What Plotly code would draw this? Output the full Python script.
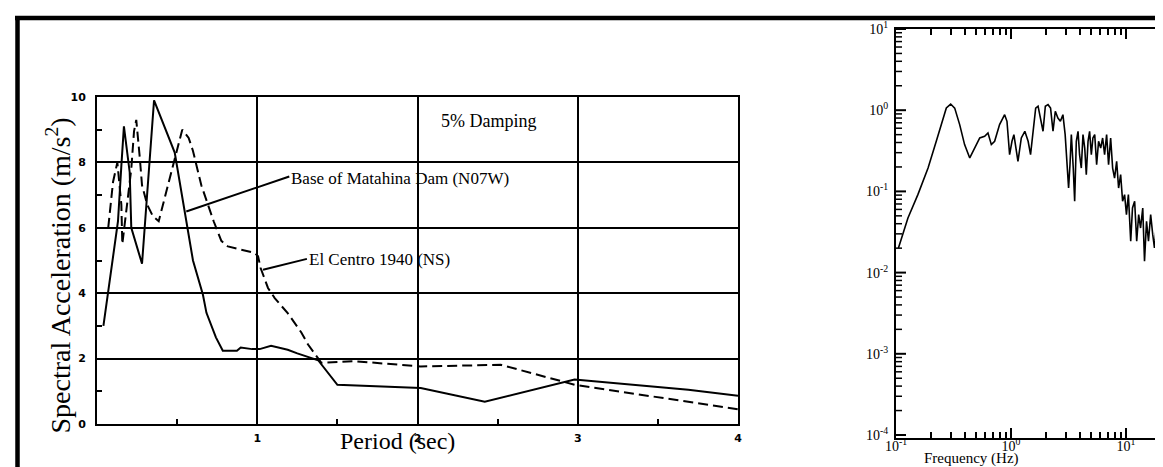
import math
import plotly.graph_objects as go

W, H = 1163, 467

# ---------------- Left panel: response spectra ----------------
matahina_period = [0.04, 0.131, 0.152, 0.168, 0.204, 0.214, 0.281, 0.308, 0.356, 0.485, 0.547,
                   0.599, 0.661, 0.683, 0.742, 0.785, 0.873, 0.897, 0.968, 1.015, 1.086, 1.19,
                   1.25, 1.38, 1.50, 2.02, 2.42, 2.98, 3.69, 4.0]
matahina_sa = [3.0, 6.2, 7.9, 9.1, 7.7, 6.0, 4.9, 6.7, 9.9, 8.3, 6.5,
               5.0, 3.95, 3.4, 2.65, 2.24, 2.24, 2.34, 2.29, 2.29, 2.39, 2.27,
               2.16, 1.95, 1.2, 1.1, 0.68, 1.36, 1.05, 0.86]

elcentro_period = [0.07, 0.1, 0.127, 0.152, 0.158, 0.189, 0.214, 0.231, 0.245, 0.266, 0.281,
                   0.314, 0.349, 0.385, 0.422, 0.48, 0.532, 0.572, 0.599, 0.651, 0.728, 0.776,
                   0.817, 0.984, 1.005, 1.021, 1.067, 1.109, 1.19, 1.275, 1.317, 1.4, 1.61,
                   2.02, 2.52, 2.98, 3.69, 4.0]
elcentro_sa = [6.0, 7.4, 8.0, 6.7, 5.5, 6.7, 7.8, 8.95, 9.3, 8.2, 7.3,
               6.7, 6.35, 6.2, 6.9, 8.0, 9.0, 8.75, 8.35, 7.3, 6.2, 5.6,
               5.43, 5.23, 5.13, 4.77, 4.16, 3.85, 3.39, 2.8, 2.43, 1.87, 1.92,
               1.76, 1.81, 1.2, 0.69, 0.45]

x_ticks = [1, 2, 3, 4]
y_ticks = [0, 2, 4, 6, 8, 10]

# ---------------- Right panel: Fourier amplitude spectrum ----------------
freq_hz = [0.105, 0.127, 0.155, 0.190, 0.224, 0.248, 0.274, 0.299, 0.324, 0.358, 0.395, 0.438,
           0.483, 0.535, 0.590, 0.631, 0.675, 0.721, 0.796, 0.881, 0.923, 0.973, 1.02, 1.06,
           1.15, 1.23, 1.32, 1.41, 1.48, 1.55, 1.64, 1.72, 1.81, 1.90, 1.99, 2.10, 2.21, 2.32,
           2.43, 2.56, 2.69, 2.83, 2.96, 3.09, 3.17, 3.26, 3.35, 3.48, 3.58, 3.70, 3.83, 3.95,
           4.09, 4.23, 4.38, 4.52, 4.68, 4.83, 5.00, 5.16, 5.35, 5.56, 5.78, 6.03, 6.27, 6.52,
           6.79, 7.06, 7.36, 7.66, 7.96, 8.30, 8.63, 8.99, 9.35, 9.73, 10.1, 10.5, 11.0, 11.4,
           11.9, 12.4, 12.9, 13.4, 14.0, 14.5, 15.1, 15.7, 16.4, 17.1, 17.7, 18.5, 19.2, 20.0,
           20.8, 21.7, 22.6]
amplitude = [0.0201, 0.047, 0.0912, 0.194, 0.414, 0.664, 1.064, 1.19, 1.06, 0.664, 0.377, 0.258,
             0.342, 0.455, 0.476, 0.524, 0.377, 0.414, 0.664, 0.881, 0.73, 0.283, 0.414, 0.5,
             0.234, 0.455, 0.55, 0.414, 0.283, 0.5, 1.06, 1.12, 0.8, 0.55, 1.12, 1.17, 1.06, 0.55,
             0.97, 0.8, 0.73, 0.88, 0.5, 0.161, 0.11, 0.213, 0.5, 0.194, 0.0755, 0.414, 0.55, 0.283,
             0.194, 0.5, 0.342, 0.161, 0.414, 0.55, 0.283, 0.455, 0.5, 0.213, 0.414, 0.342, 0.455, 0.283,
             0.5, 0.213, 0.455, 0.194, 0.146, 0.234, 0.11, 0.161, 0.0755, 0.0912, 0.0518, 0.0912, 0.0243, 0.0625,
             0.0755, 0.0243, 0.0518, 0.0354, 0.0625, 0.0138, 0.0429, 0.0243, 0.0518, 0.0293, 0.0201, 0.0429, 0.0243, 0.0354,
             0.0518, 0.0243, 0.0293]

freq_ticks = [0.1, 1, 10]
freq_ticktext = ["10<sup>-1</sup>", "10<sup>0</sup>", "10<sup>1</sup>"]
amp_ticks = [1e-4, 1e-3, 1e-2, 1e-1, 1, 10]
amp_ticktext = ["10<sup>-4</sup>", "10<sup>-3</sup>", "10<sup>-2</sup>", "10<sup>-1</sup>",
                "10<sup>0</sup>", "10<sup>1</sup>"]


def px(x):
    return x / W


def py(y):
    return 1 - y / H


fig = go.Figure()
fig.add_trace(go.Scatter(x=matahina_period, y=matahina_sa, mode="lines",
                         line=dict(color="black", width=2), xaxis="x", yaxis="y",
                         name="Base of Matahina Dam (N07W)"))
fig.add_trace(go.Scatter(x=elcentro_period, y=elcentro_sa, mode="lines",
                         line=dict(color="black", width=2, dash="10px,5px"), xaxis="x", yaxis="y",
                         name="El Centro 1940 (NS)"))
fig.add_trace(go.Scatter(x=freq_hz, y=amplitude, mode="lines",
                         line=dict(color="black", width=1.6), xaxis="x2", yaxis="y2",
                         name="Fourier amplitude"))

tickfont_left = dict(family="DejaVu Sans", size=11, color="black", weight="bold")
serif = "Liberation Serif"

r_xdom = [px(888), px(1159)]
r_ydom = [py(430), py(21)]
r_xrange = [-1, 1.357]
r_yrange = [-4.037, 1.0]

fig.update_layout(
    width=W, height=H,
    margin=dict(l=0, r=0, t=0, b=0, pad=0, autoexpand=False),
    paper_bgcolor="white", plot_bgcolor="white",
    showlegend=False,
    xaxis=dict(domain=[px(89), px(730)], range=[0, 4], tickmode="array", tickvals=x_ticks,
               showgrid=True, gridcolor="black", gridwidth=2, zeroline=False,
               showline=True, mirror=True, linecolor="black", linewidth=2,
               ticks="", tickfont=tickfont_left, ticklabelstandoff=3,
               minor=dict(tickmode="array", tickvals=[0.5, 1.5, 2.5, 3.5], ticks="inside",
                          ticklen=5, tickcolor="black", tickwidth=1.5, showgrid=False)),
    yaxis=dict(domain=[py(416), py(89)], range=[0, 10], tickmode="array", tickvals=y_ticks,
               showgrid=True, gridcolor="black", gridwidth=2, zeroline=False,
               showline=True, mirror=True, linecolor="black", linewidth=2,
               ticks="", tickfont=tickfont_left, ticklabelstandoff=7,
               minor=dict(tickmode="array", tickvals=[1, 3, 5, 7, 9], ticks="inside",
                          ticklen=5, tickcolor="black", tickwidth=1.5, showgrid=False)),
    xaxis2=dict(domain=r_xdom, type="log", range=r_xrange, anchor="y2",
                tickmode="array", tickvals=freq_ticks, ticktext=freq_ticktext,
                showgrid=False, zeroline=False, showline=True, mirror="allticks",
                linecolor="black", linewidth=2, ticks="inside", ticklen=10, tickcolor="black",
                tickwidth=2, tickfont=dict(family=serif, size=14, color="black"),
                ticklabelstandoff=-6,
                minor=dict(ticks="inside", ticklen=6, tickcolor="black", tickwidth=1.5,
                           dtick="D1", showgrid=False)),
    yaxis2=dict(domain=r_ydom, type="log", range=r_yrange, anchor="x2",
                tickmode="array", tickvals=amp_ticks, ticktext=amp_ticktext,
                showgrid=False, zeroline=False, showline=True, mirror=True,
                linecolor="black", linewidth=2, ticks="",
                tickfont=dict(family=serif, size=14, color="black"), ticklabelstandoff=3),
)

annotations = [
    dict(text="Spectral Acceleration (m/s<sup>2</sup>)", x=px(31), y=py(268), xref="paper",
         yref="paper", textangle=-90, showarrow=False, font=dict(family=serif, size=28, color="black")),
    dict(text="Period (sec)", x=px(389), y=py(448), xref="paper", yref="paper", showarrow=False,
         font=dict(family=serif, size=24, color="black")),
    dict(text="Frequency (Hz)", x=px(1013), y=py(461), xref="paper", yref="paper", showarrow=False,
         font=dict(family=serif, size=15, color="black")),
    dict(text="5% Damping", x=2.44, y=9.27, xref="x", yref="y", showarrow=False,
         font=dict(family=serif, size=18, color="black")),
    dict(text="Base of Matahina Dam (N07W)", x=1.20, y=7.52, xref="x", yref="y", xanchor="left",
         showarrow=False, font=dict(family=serif, size=17, color="black")),
    dict(text="El Centro 1940 (NS)", x=1.31, y=5.02, xref="x", yref="y", xanchor="left",
         showarrow=False, font=dict(family=serif, size=17, color="black")),
]
fig.update_layout(annotations=annotations)

shapes = [
    # leader lines
    dict(type="line", xref="x", yref="y", x0=0.557, y0=6.50, x1=1.20, y1=7.57,
         line=dict(color="black", width=2)),
    dict(type="line", xref="x", yref="y", x0=1.036, y0=4.72, x1=1.31, y1=5.05,
         line=dict(color="black", width=2)),
    # outer frame of the scanned figure
    dict(type="line", xref="paper", yref="paper", x0=px(7), y0=py(10), x1=1.0, y1=py(10),
         line=dict(color="black", width=4.5)),
    dict(type="line", xref="paper", yref="paper", x0=px(9.5), y0=py(8), x1=px(9.5), y1=0,
         line=dict(color="black", width=4.5)),
]

# inside tick marks (major + minor) on both sides of the log amplitude axis
panel_w = 1159 - 888
for e in range(-4, 2):
    for m in range(1, 10):
        lv = math.log10(m) + e
        if lv > r_yrange[1] + 1e-9:
            break
        frac = (lv - r_yrange[0]) / (r_yrange[1] - r_yrange[0])
        tl = (10 if m == 1 else 6) / panel_w
        for x0, x1 in ((0, tl), (1, 1 - tl)):
            shapes.append(dict(type="line", xref="x2 domain", yref="y2 domain",
                               x0=x0, x1=x1, y0=frac, y1=frac,
                               line=dict(color="black", width=2 if m == 1 else 1.5)))
fig.update_layout(shapes=shapes)

fig.write_html("out.html")
